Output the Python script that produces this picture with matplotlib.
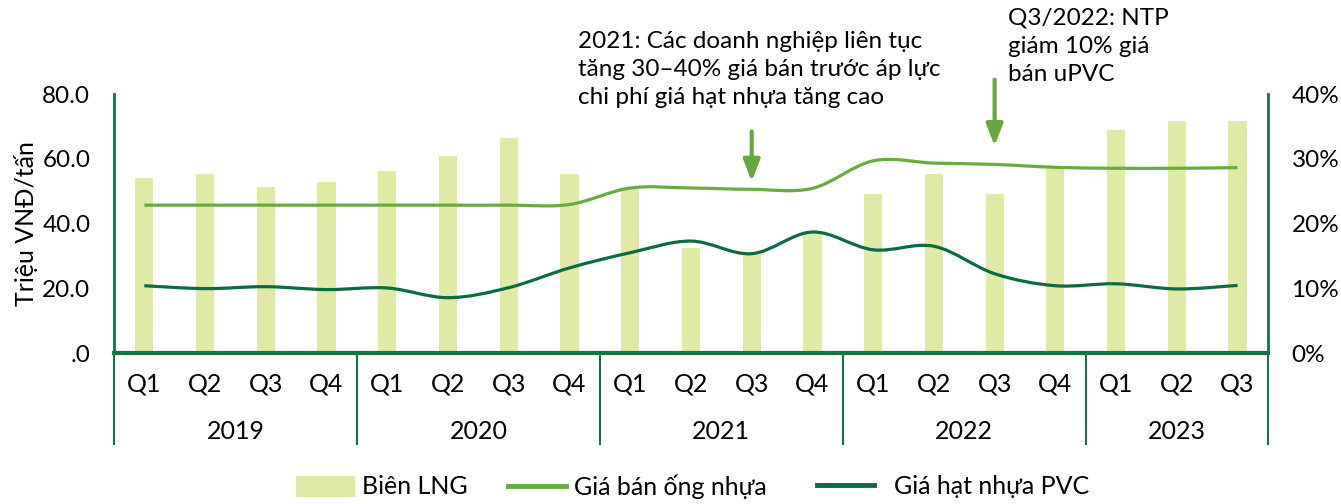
import numpy as np
import matplotlib
matplotlib.use("Agg")
import matplotlib.pyplot as plt
from matplotlib.path import Path
from matplotlib.patches import PathPatch, Patch
from matplotlib.lines import Line2D
import matplotlib.transforms as mtransforms

plt.rcParams['font.family'] = ['Lato', 'DejaVu Sans']

quarters = ['Q1', 'Q2', 'Q3', 'Q4'] * 4 + ['Q1', 'Q2', 'Q3']
years = ['2019', '2020', '2021', '2022', '2023']
year_len = [4, 4, 4, 4, 3]

# Biên LNG (%) - right axis
bien_lng = [27.0, 27.7, 25.7, 26.4, 28.2, 30.4, 33.3, 27.7,
            25.3, 16.3, 15.5, 18.9, 24.5, 27.7, 24.5, 28.7,
            34.4, 35.8, 35.8]
# Giá bán ống nhựa (triệu VND/tấn)
gia_ban = [45.7, 45.7, 45.7, 45.7, 45.7, 45.7, 45.7, 45.9,
           51.0, 51.0, 50.6, 50.9, 59.4, 58.7, 58.3, 57.4,
           57.1, 57.1, 57.3]
# Giá hạt nhựa PVC (triệu VND/tấn)
gia_hat = [20.8, 19.9, 20.5, 19.6, 20.1, 17.1, 20.2, 26.3,
           31.0, 34.6, 30.7, 37.4, 31.9, 33.0, 24.5, 20.8,
           21.4, 19.8, 20.9]

c_bar = '#dfeaa6'
c_ban = '#6aaa3e'
c_hat = '#0c6b3f'
c_axis = '#1b7048'
c_arrow = '#6aa640'


def smooth_path(xs, ys):
    # Excel-style smoothed line as cubic bezier segments
    pts = np.column_stack([xs, ys]).astype(float)
    n = len(pts)
    verts = [pts[0]]
    codes = [Path.MOVETO]
    for i in range(n - 1):
        p0 = pts[i - 1] if i > 0 else pts[i]
        p1 = pts[i]
        p2 = pts[i + 1]
        p3 = pts[i + 2] if i + 2 < n else pts[i + 1]
        c1 = p1 + (p2 - p0) / 6.0
        c2 = p2 - (p3 - p1) / 6.0
        verts += [c1, c2, p2]
        codes += [Path.CURVE4] * 3
    return Path(verts, codes)


fig = plt.figure(figsize=(13.41, 5.04), dpi=100)
ax = fig.add_axes([0.085, 0.2996, 0.8605, 0.5135])
ax2 = ax.twinx()

x = np.arange(len(quarters))

ax2.bar(x, bien_lng, width=0.3, color=c_bar, zorder=1)
ax2.set_ylim(0, 40)
ax2.set_yticks([0, 10, 20, 30, 40])
ax2.set_yticklabels(['0%', '10%', '20%', '30%', '40%'])

ax.add_patch(PathPatch(smooth_path(x, gia_ban), fill=False, edgecolor=c_ban, lw=2.3, zorder=3))
ax.add_patch(PathPatch(smooth_path(x, gia_hat), fill=False, edgecolor=c_hat, lw=2.3, zorder=3))
ax.set_zorder(ax2.get_zorder() + 1)
ax.patch.set_visible(False)

ax.set_xlim(-0.5, len(quarters) - 0.5)
ax.set_ylim(0, 80)
ax.set_yticks([0, 20, 40, 60, 80])
ax.set_yticklabels(['.0', '20.0', '40.0', '60.0', '80.0'])
ax.set_ylabel('Triệu VNĐ/tấn', fontsize=18, labelpad=3)

for a in (ax, ax2):
    a.spines['top'].set_visible(False)
    a.tick_params(axis='both', length=0, labelsize=17.5, colors='black')
ax2.tick_params(axis='y', pad=17)
ax.tick_params(axis='y', pad=17)
ax.spines['left'].set_color(c_axis)
ax.spines['left'].set_linewidth(2)
ax.spines['right'].set_visible(False)
ax2.spines['left'].set_visible(False)
ax2.spines['bottom'].set_visible(False)
ax2.spines['right'].set_color(c_axis)
ax2.spines['right'].set_linewidth(2)
ax.spines['bottom'].set_color(c_axis)
ax.spines['bottom'].set_linewidth(3)

ax.set_xticks(x)
ax.set_xticklabels(quarters, fontsize=18)
ax.tick_params(axis='x', pad=14)

trans = mtransforms.blended_transform_factory(ax.transData, ax.transAxes)
start = 0
bounds = [-0.5]
for yr, n in zip(years, year_len):
    mid = start + (n - 1) / 2.0
    ax.text(mid, -0.305, yr, transform=trans, ha='center', va='center', fontsize=18)
    start += n
    bounds.append(start - 0.5)
for b in bounds:
    ax.plot([b, b], [0, -0.35], transform=trans, color=c_axis, lw=1.5, clip_on=False)

# annotations
fig.text(578 / 1341, 1 - 31 / 504,
         '2021: Các doanh nghiệp liên tục\ntăng 30–40% giá bán trước áp lực\nchi phí giá hạt nhựa tăng cao',
         ha='left', va='top', fontsize=17.5, linespacing=1.42)
fig.text(1008 / 1341, 1 - 8 / 504,
         'Q3/2022: NTP\ngiám 10% giá\nbán uPVC',
         ha='left', va='top', fontsize=17.5, linespacing=1.42)
arrow_style = dict(arrowstyle='-|>,head_width=0.5,head_length=1.3', color=c_arrow, lw=3,
                   shrinkA=0, shrinkB=0)
ax.annotate('', xy=(10, 53.0), xytext=(10, 68.5), arrowprops=arrow_style)
ax.annotate('', xy=(14, 64.0), xytext=(14, 84.5), arrowprops=arrow_style,
            annotation_clip=False)

# legend, three separate entries
leg_items = [
    (Patch(color=c_bar), 'Biên LNG', 296),
    (Line2D([0], [0], color=c_ban, lw=3.5), 'Giá bán ống nhựa', 508),
    (Line2D([0], [0], color=c_hat, lw=3.5), 'Giá hạt nhựa PVC', 817),
]
for h, lab, px in leg_items:
    fig.legend([h], [lab], loc='center left', bbox_to_anchor=(px / 1341, 1 - 487 / 504),
               frameon=False, fontsize=18, handlelength=2.3, handleheight=0.9,
               handletextpad=0.35 if px < 800 else 0.8, borderpad=0, borderaxespad=0)

fig.savefig('out.png', dpi=100)
